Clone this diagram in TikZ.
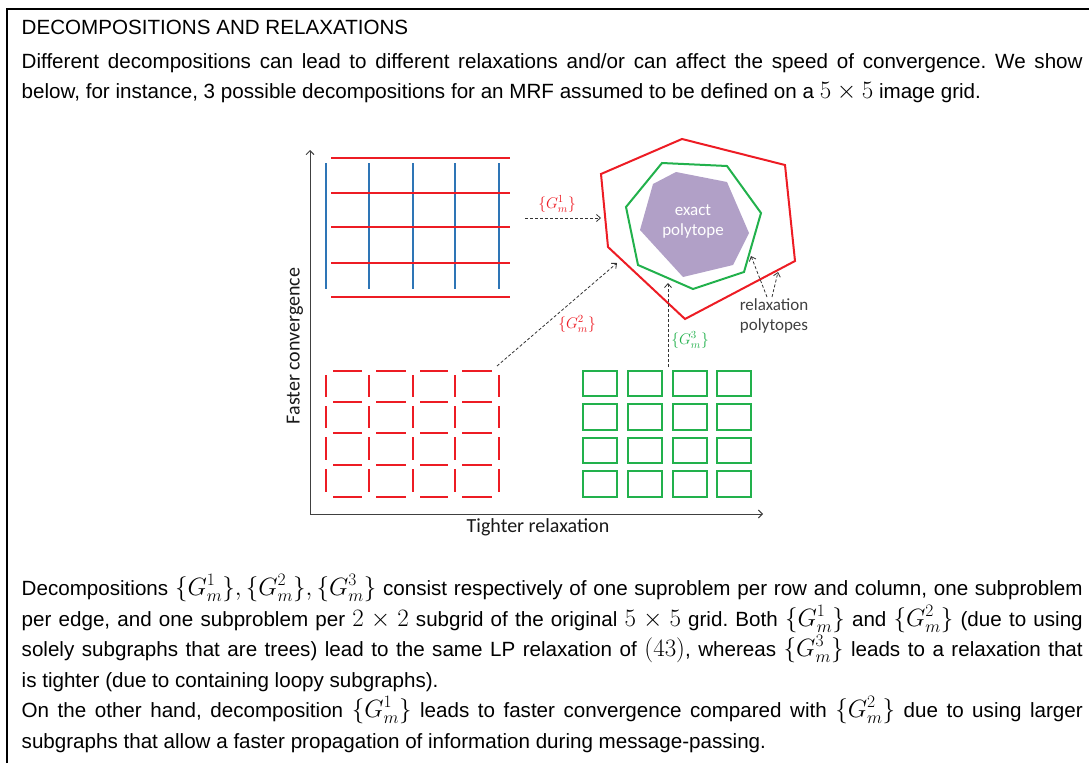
\documentclass[tikz,border=0pt]{standalone}
\usepackage{fix-cm}
\usepackage{fontspec}
\setmainfont{Liberation Sans}
\newfontfamily\carl{Carlito}
\usetikzlibrary{arrows.meta}
\frenchspacing
\definecolor{myred}{RGB}{237,28,36}
\definecolor{myblue}{RGB}{46,117,182}
\definecolor{mygreen}{RGB}{34,177,76}
\definecolor{mypurple}{RGB}{177,160,199}
\definecolor{axisgray}{RGB}{64,64,64}
\tikzset{
 body/.style={font=\fontsize{20.6}{24}\selectfont, inner sep=0pt, anchor=base west},
 redline/.style={draw=myred, line width=2.2pt},
 blueline/.style={draw=myblue, line width=2.2pt},
 greenbox/.style={draw=mygreen, line width=2.2pt},
 axisline/.style={draw=axisgray, line width=0.9pt, -{Straight Barb[length=4pt,width=8pt]}},
 dasharrow/.style={draw=black!80, line width=0.8pt, dash pattern=on 3pt off 2pt, -{Straight Barb[length=4pt,width=7pt]}},
 dlabel/.style={font=\carl\fontsize{20}{24}\selectfont, text=black!90, inner sep=0pt},
 smalllabel/.style={font=\carl\fontsize{17}{20}\selectfont, inner sep=0pt, align=center},
 glabel/.style={font=\fontsize{15.5}{18}\selectfont, inner sep=0pt},
 frameline/.style={draw=black, line width=2.5pt},
}
\newcommand\jl[1]{\makebox[1061pt][s]{#1}}
\newcommand\mth[1]{{\fontsize{25}{24}\selectfont$#1$}}
\begin{document}
\begin{tikzpicture}[x=1pt,y=-1pt]
\useasboundingbox (0,0) rectangle (1089,763);
% frame
\draw[frameline] (7,763) -- (7,9) -- (1089,9);
% top text
\node[body] (title) at (21.5,34) {DECOMPOSITIONS AND RELAXATIONS};
\node[body] (t1) at (21.5,68) {\jl{Different decompositions can lead to different relaxations and/or can affect the speed of convergence. We show}};
\node[body] (t2) at (21.5,98) {below, for instance, 3 possible decompositions for an MRF assumed to be defined on a \mth{5\times 5} image grid.};
% bottom text
\node[body] (b1) at (21.5,595) {\jl{Decompositions \mth{\{G^1_m\}, \{G^2_m\}, \{G^3_m\}} consist respectively of one suproblem per row and column, one subproblem}};
\node[body] (b2) at (21.5,626) {\jl{per edge, and one subproblem per \mth{2\times 2} subgrid of the original \mth{5\times 5} grid. Both \mth{\{G^1_m\}} and \mth{\{G^2_m\}} (due to using}};
\node[body] (b3) at (21.5,656) {\jl{solely subgraphs that are trees) lead to the same LP relaxation of \mth{(43)}, whereas \mth{\{G^3_m\}} leads to a relaxation that}};
\node[body] (b4) at (21.5,687) {is tighter (due to containing loopy subgraphs).};
\node[body] (b5) at (21.5,717) {\jl{On the other hand, decomposition \mth{\{G^1_m\}} leads to faster convergence compared with \mth{\{G^2_m\}} due to using larger}};
\node[body] (b6) at (21.5,748) {subgraphs that allow a faster propagation of information during message-passing.};
% axes
\coordinate (origin) at (310,514);
\coordinate (ytop) at (310,150);
\coordinate (xend) at (763,514);
\draw[axisline] (origin) -- (ytop);
\draw[axisline] (origin) -- (xend);
\node[dlabel, rotate=90] (ylab) at (295,346) {Faster convergence};
\node[dlabel] (xlab) at (538,527) {Tighter relaxation};
% top-left grid
\foreach \x in {326,369,413,455,499} \draw[blueline] (\x,163) -- (\x,289);
\foreach \y in {158,193,227,263,297} \draw[redline] (331,\y) -- (510,\y);
% bottom-left grid (one subproblem per edge)
\foreach \y in {371,402,433,465,497} {
  \foreach \xa/\xb in {326/369,369/413,413/455,455/499}
    \draw[redline] (\xa+7,\y) -- (\xb-7,\y);
}
\foreach \x in {326,369,413,455,499} {
  \foreach \ya/\yb in {371/402,402/433,433/465,465/497}
    \draw[redline] (\x,\ya+4) -- (\x,\yb-5);
}
% bottom-right grid (2x2 subgrids)
\foreach \xa/\xb in {583/617,628/662,673/707,717/751} {
  \foreach \ya/\yb in {371/396,404/430,438/463,471/497}
    \draw[greenbox] (\xa,\ya) rectangle (\xb,\yb);
}
% polytopes
\draw[draw=myred, line width=2pt, line join=miter] (601,174) -- (682,139) -- (785,165) -- (795,261) -- (685,319) -- (608,247) -- cycle;
\draw[draw=mygreen, line width=2pt] (662,163) -- (727,166) -- (761,213) -- (744,272) -- (693,289) -- (638,265) -- (626,207) -- cycle;
\fill[mypurple] (653,184) -- (676,172) -- (727,182) -- (749,233) -- (733,265) -- (683,277) -- (640,230) -- cycle;
\node[smalllabel, text=white] (exact) at (693,221) {exact\\polytope};
\node[smalllabel, text=black!75] (relax) at (774,316) {relaxation\\polytopes};
% labels
\node[glabel, text=myred] (g1) at (557,204) {$\{G^1_m\}$};
\node[glabel, text=myred] (g2) at (577,324) {$\{G^2_m\}$};
\node[glabel, text=mygreen] (g3) at (690,340) {$\{G^3_m\}$};
% dashed arrows
\coordinate (a1s) at (525,218);
\coordinate (a1e) at (601,218);
\coordinate (a2s) at (497,366);
\coordinate (a2e) at (617,263);
\coordinate (a3s) at (668,367);
\coordinate (a3e) at (668,283);
\coordinate (a4s) at (767,297);
\coordinate (a4e) at (751,256);
\coordinate (a5s) at (772,297);
\coordinate (a5e) at (778,272);
\draw[dasharrow] (a1s) -- (a1e);
\draw[dasharrow] (a2s) -- (a2e);
\draw[dasharrow] (a3s) -- (a3e);
\draw[dasharrow] (a4s) -- (a4e);
\draw[dasharrow] (a5s) -- (a5e);
\end{tikzpicture}
\end{document}
